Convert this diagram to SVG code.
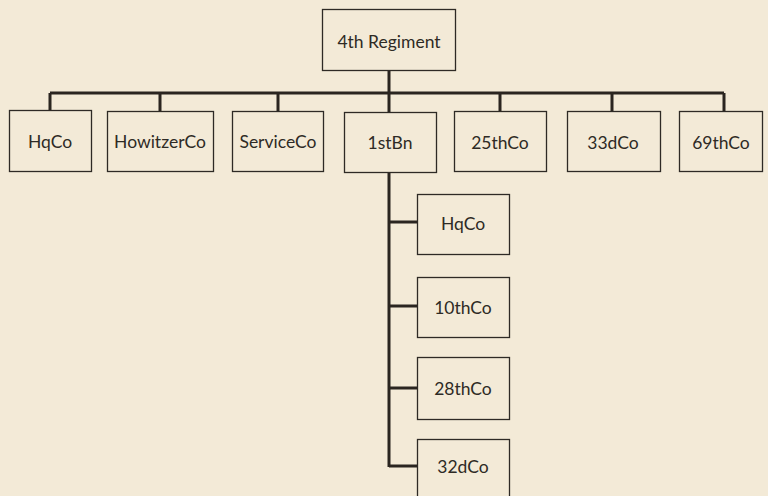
<svg xmlns="http://www.w3.org/2000/svg" width="768" height="496" viewBox="0 0 768 496">
<style>
.box{fill:none;stroke:#2e2a25;stroke-width:1.3}
.lbl{font-family:Lato,"Liberation Sans",sans-serif;font-size:17.5px;fill:#2e2a25;text-anchor:middle;dominant-baseline:central}
.conn{fill:none;stroke:#2a2520;stroke-width:3}
</style>
<rect width="768" height="496" fill="#f3ead7"/>
<g id="connectors">
<path class="conn" d="M389,70 V112 M50,93 H724 M50,93 V110 M160,93 V111 M278,93 V111 M500,93 V111 M612,93 V111 M724,93 V111"/>
<path class="conn" d="M389,172 V467 M389,222 H417 M389,306 H417 M389,388 H417 M389,466 H417"/>
</g>
<g id="regiment"><rect class="box" x="322.5" y="9.5" width="133" height="61"/><text class="lbl" x="389" y="41">4th Regiment</text></g>
<g id="hqco"><rect class="box" x="9.5" y="110.5" width="82" height="61"/><text class="lbl" x="50" y="141">HqCo</text></g>
<g id="howitzerco"><rect class="box" x="107.5" y="111.5" width="106" height="60"/><text class="lbl" x="160" y="141">HowitzerCo</text></g>
<g id="serviceco"><rect class="box" x="232.5" y="111.5" width="91" height="60"/><text class="lbl" x="278" y="141">ServiceCo</text></g>
<g id="firstbn"><rect class="box" x="344.5" y="112.5" width="92" height="60"/><text class="lbl" x="390" y="142">1stBn</text></g>
<g id="co25"><rect class="box" x="454.5" y="111.5" width="92" height="60"/><text class="lbl" x="500" y="142">25thCo</text></g>
<g id="co33"><rect class="box" x="567.5" y="111.5" width="93" height="60"/><text class="lbl" x="613" y="142">33dCo</text></g>
<g id="co69"><rect class="box" x="679.5" y="111.5" width="83" height="60"/><text class="lbl" x="721" y="142">69thCo</text></g>
<g id="bn-hqco"><rect class="box" x="417.5" y="194.5" width="92" height="60"/><text class="lbl" x="463" y="223">HqCo</text></g>
<g id="co10"><rect class="box" x="417.5" y="277.5" width="92" height="60"/><text class="lbl" x="463" y="307">10thCo</text></g>
<g id="co28"><rect class="box" x="417.5" y="357.5" width="92" height="62"/><text class="lbl" x="463" y="388">28thCo</text></g>
<g id="co32"><rect class="box" x="417.5" y="439.5" width="92" height="70"/><text class="lbl" x="463" y="466">32dCo</text></g>
</svg>
